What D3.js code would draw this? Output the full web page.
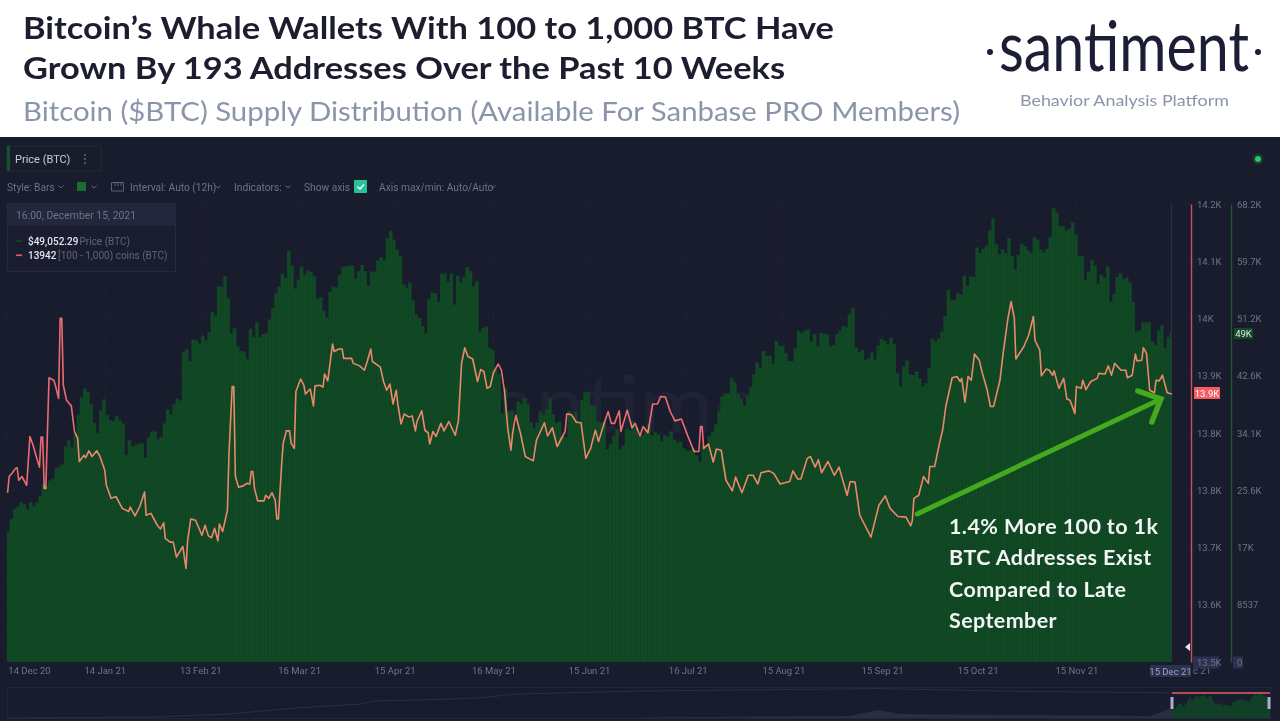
<!DOCTYPE html>
<html><head><meta charset="utf-8">
<script src="https://cdn.jsdelivr.net/npm/d3@7"></script>
<style>html,body{margin:0;padding:0;background:#fff;overflow:hidden}svg{display:block}</style>
</head><body><svg id="c" width="1280" height="721"></svg>
<script>
// BTC price in thousand USD, one value per day from 14 Dec 2020 to 15 Dec 2021
const priceDec20=[19.2,19.4,21.3,22.8,23.1,23.8,23.5,22.7,23.8,23.2,23.7,24.7,26.4,26.2,27.0,27.3,28.8,29.0];
const priceJan=[29.4,32.1,33.0,32.0,34.0,36.8,39.4,40.7,40.2,38.3,35.6,34.0,37.4,39.1,36.8,36.0,35.8,36.6,36.0,35.5,30.8,33.0,32.1,32.3,32.5,32.5,30.4,33.5,34.3,34.3,33.1];
const priceFeb=[33.5,35.5,37.6,36.9,38.3,39.2,38.9,46.2,46.5,44.8,48.0,47.9,47.4,48.6,47.9,49.1,52.1,51.6,55.9,55.8,57.4,54.1,48.9,49.7,47.0,46.3,46.2,45.1];
const priceMar=[49.6,48.4,50.5,48.4,48.8,48.9,51.0,52.7,54.9,55.9,57.8,57.2,61.2,59.0,55.6,56.9,58.9,57.6,58.3,58.1,57.4,54.1,54.3,52.3,51.3,55.1,55.9,55.8,57.6,58.8,58.9];
const priceApr=[59.0,59.0,57.1,58.2,59.1,58.2,56.0,58.1,58.1,59.8,60.2,59.8,63.1,64.2,62.9,61.4,60.4,56.2,55.7,56.5,53.8,51.7,51.2,50.0,49.0,54.0,55.0,54.9,53.6,57.8];
const priceMay=[57.8,56.6,57.8,53.2,57.5,56.5,57.3,58.8,58.2,55.9,56.7,49.2,49.7,49.9,46.8,46.4,43.5,42.9,37.0,40.8,37.3,37.5,34.8,38.8,38.4,39.3,38.4,35.7,34.8,35.7,37.3];
const priceJun=[36.7,37.6,39.2,36.9,35.6,35.8,33.6,33.5,37.4,36.7,37.3,35.6,39.0,40.2,40.2,38.3,38.1,35.8,35.6,35.7,31.7,32.5,33.7,34.7,31.6,32.2,34.7,34.5,35.9,35.0];
const priceJul=[33.6,33.8,34.7,35.3,33.7,34.2,33.9,32.9,33.8,33.5,34.3,33.1,32.7,32.8,31.8,31.4,31.5,31.8,30.8,29.8,32.1,32.3,33.6,34.3,35.4,37.3,39.5,40.0,40.0,42.2,41.6];
const priceAug=[39.9,39.2,38.2,39.7,40.9,42.8,44.6,43.8,46.3,45.6,45.6,44.4,47.8,47.1,47.0,46.0,44.8,44.8,46.7,49.3,48.9,49.3,49.5,47.7,48.8,47.0,49.0,48.9,48.8,47.0,47.2];
const priceSep=[48.8,49.3,50.0,49.9,51.8,52.7,46.8,46.1,46.4,44.9,45.2,46.1,45.0,47.1,48.1,47.8,47.3,48.3,47.3,43.0,41.0,44.0,44.9,42.8,42.7,43.2,42.2,41.0,41.5,43.8];
const priceOct=[48.1,47.7,48.2,49.2,51.5,55.4,53.8,53.9,54.9,54.7,57.5,56.0,57.4,57.3,61.7,60.9,61.5,62.0,64.3,66.0,62.2,60.7,61.4,60.9,63.1,60.4,58.5,60.6,62.3,61.9,61.3];
const priceNov=[60.9,63.2,62.9,61.4,61.0,61.5,63.3,67.6,66.9,64.9,64.9,64.2,64.5,65.5,63.6,60.4,60.4,56.9,58.1,59.8,59.0,56.3,57.6,57.2,58.9,53.6,54.8,57.3,57.8,57.0];
const priceDec21=[57.2,56.5,53.6,49.2,49.4,50.6,50.5,50.6,47.7,47.2,49.4,50.1,46.7,48.4,49.1];
const price=[].concat(priceDec20,priceJan,priceFeb,priceMar,priceApr,priceMay,priceJun,priceJul,priceAug,priceSep,priceOct,priceNov,priceDec21);

// Addresses holding 100 - 1,000 BTC: half-day index from 14 Dec 2020, and count
const coinsHalfDay=[1,2,4,6,7,8,10,13,15,17,19,21,22,23,24,25,27,30,31,33,34,35,36,38,41,43,45,46,49,50,52,54,57,59,62,63,66,69,73,77,78,81,84,85,87,88,91,95,97,99,100,103,105,107,111,113,114,116,119,123,125,127,129,131,133,134,136,139,140,142,143,144,146,149,151,153,154,155,156,158,162,163,165,167,169,170,171,173,174,176,178,179,181,182,185,187,188,191,193,194,197,199,200,202,205,206,209,211,212,217,218,222,225,227,229,230,235,237,239,241,243,245,246,248,250,253,255,257,258,261,263,265,266,268,270,273,275,278,282,284,286,288,290,293,296,298,300,302,304,306,309,311,313,315,317,318,320,323,326,331,333,338,340,343,346,351,352,355,358,361,364,367,370,372,375,378,380,382,385,386,390,393,395,398,400,403,406,409,411,414,417,420,424,428,432,435,436,437,438,441,444,446,449,452,456,458,462,466,469,472,474,479,482,486,492,494,497,499,503,505,508,510,512,516,520,523,528,530,533,536,543,548,552,555,560,565,568,569,570,573,576,579,580,583,586,588,590,594,597,599,600,602,604,606,608,611,613,616,618,620,624,626,629,631,633,634,639,642,645,646,649,650,653,655,657,658,661,664,666,668,671,672,675,676,678,681,685,686,690,692,694,696,700,703,704,707,709,710,713,714,716,718,721,722,724,726,729,732];
const coinsCount=[13784,13810,13816,13823,13824,13804,13810,13796,13874,13860,13842,13825,13873,13873,13791,13791,13968,13964,13956,13935,14063,14063,13956,13932,13923,13882,13871,13834,13844,13840,13851,13842,13851,13842,13820,13796,13775,13778,13759,13754,13761,13747,13762,13770,13785,13748,13751,13732,13726,13736,13711,13705,13705,13681,13698,13663,13707,13742,13740,13716,13732,13715,13712,13727,13707,13734,13722,13756,13847,13954,13954,13810,13793,13795,13799,13798,13818,13818,13791,13771,13771,13780,13775,13784,13772,13742,13742,13828,13863,13883,13883,13863,13855,13946,13966,13956,13942,13950,13923,13955,13956,13953,13974,13963,14022,14010,14014,14014,13999,13999,13991,13987,13980,13996,14014,13994,13985,13962,13948,13958,13926,13948,13926,13894,13910,13905,13907,13883,13898,13915,13884,13880,13862,13882,13874,13895,13883,13898,13876,13899,13991,14016,14002,13998,13962,13981,13978,13951,13954,13976,13990,13980,13946,13887,13852,13878,13908,13879,13842,13835,13868,13896,13875,13888,13858,13882,13910,13909,13897,13896,13839,13855,13884,13866,13891,13914,13895,13895,13915,13882,13916,13888,13895,13875,13890,13880,13926,13926,13938,13937,13914,13899,13902,13875,13850,13850,13890,13890,13855,13862,13833,13854,13852,13804,13787,13809,13784,13812,13812,13798,13816,13819,13815,13798,13802,13819,13806,13806,13839,13842,13825,13837,13816,13834,13812,13825,13780,13802,13801,13748,13713,13764,13779,13759,13746,13745,13731,13740,13775,13780,13810,13799,13826,13826,13863,13884,13922,13968,13970,13962,13967,13929,13970,13964,14006,13996,13975,13948,13922,13922,13964,14007,14063,14090,14063,13998,14018,14036,14066,14028,14012,13971,13982,13980,13972,13979,13951,13967,13934,13932,13911,13954,13951,13964,13949,13962,13967,13975,13974,13987,13972,13991,13980,13980,13968,13972,14006,13995,13996,14016,14007,13948,13944,13964,13963,13972,13944,13942];

const dateTicks=["2020-12-14","2021-01-14","2021-02-13","2021-03-16","2021-04-15","2021-05-16","2021-06-15","2021-07-16","2021-08-15","2021-09-15","2021-10-15","2021-11-15"];
const coinsTickLabels=["13.5K","13.6K","13.7K","13.8K","13.8K","13.9K","14K","14.1K","14.2K"];
const priceTicks=[0,8537,17000,25600,34100,42600,51200,59700,68200];
const priceTickLabels=["0","8537","17K","25.6K","34.1K","42.6K","51.2K","59.7K","68.2K"];
const noteLines=["1.4% More 100 to 1k","BTC Addresses Exist","Compared to Late","September"];
// Overview strip: share of the strip height over the share of the full history
const navTopT=[0,12.3,19.1,24.7,30.3,31.6,35.5,40.6,43.6,54.3,74.9,85.2,99.8];
const navTopV=[0,3,13,32,45,55,58,65,77,87,95,87,81];
const navLowT=[54.3,72.4,74.7,76.7,85.2,98.1,100];
const navLowV=[2,6.5,26,13,10,6.5,32];

const BG="#191c2d",GREEN="#114925",GRID="#22263a",MUTED="#6d7287",AX="#6f7488";
const svg=d3.select("#c");
const UI="Roboto,sans-serif", HEAD="Lato,'Open Sans',sans-serif";
svg.append("rect").attr("width",1280).attr("height",721).attr("fill","#fff");
svg.append("rect").attr("y",137).attr("width",1280).attr("height",584).attr("fill",BG);

// Header
function fit(t,x,y,len,size,weight,fill,fam){
  return svg.append("text").attr("x",x).attr("y",y).attr("font-family",fam||HEAD).attr("font-size",size)
   .attr("font-weight",weight).attr("fill",fill).attr("textLength",len).attr("lengthAdjust","spacingAndGlyphs").text(t);
}
fit("Bitcoin’s Whale Wallets With 100 to 1,000 BTC Have",23,39,811,31,700,"#1c1e2f");
fit("Grown By 193 Addresses Over the Past 10 Weeks",23,79,762,31,700,"#1c1e2f");
fit("Bitcoin ($BTC) Supply Distribution (Available For Sanbase PRO Members)",23,121,937,27.5,400,"#8b95aa");
fit("santiment",999,71,250,70,400,"#1c1e36");
svg.selectAll("circle.logo").data([990,1258]).join("circle").attr("cx",d=>d).attr("cy",52).attr("r",3).attr("fill","#1c1e36");
fit("Behavior Analysis Platform",1020,106,209,16,400,"#8b95aa");

// Scales
const x0=6,x1=1172,plotTop=204,plotBot=662;
const xTime=d3.scaleUtc().domain([new Date("2020-12-14"),new Date("2021-12-15")]).range([x0,x1]);
const xBand=d3.scaleBand().domain(d3.range(price.length)).range([3.5,1173]);
const xHalf=d3.scaleLinear().domain([0,732]).range([x0,x1]);
const yPrice=d3.scaleLinear().domain([0,68200]).range([plotBot,plotTop]);
const yCoins=d3.scaleLinear().domain([13513.2,14246]).range([plotBot,plotTop]);
const coinTicks=d3.range(9).map(i=>13513.2+i*(14246-13513.2)/8);

// Grid & watermark
const grid=svg.append("g");
coinTicks.slice(1).forEach(v=>grid.append("line").attr("x1",x0).attr("x2",1230).attr("y1",yCoins(v)).attr("y2",yCoins(v)).attr("stroke",GRID).attr("stroke-dasharray","3 3").attr("stroke-width",.7));
dateTicks.forEach(d=>grid.append("line").attr("x1",xTime(new Date(d))).attr("x2",xTime(new Date(d))).attr("y1",plotTop).attr("y2",plotBot).attr("stroke",GRID).attr("stroke-dasharray","3 3").attr("stroke-width",.7));
svg.append("text").attr("x",452).attr("y",432).attr("font-family",HEAD).attr("font-size",80).attr("font-weight",400).attr("fill","#1f2335").attr("textLength",390).attr("lengthAdjust","spacingAndGlyphs").text("santiment");

// Bars
svg.append("clipPath").attr("id","plot").append("rect").attr("x",7).attr("y",plotTop-5).attr("width",1165).attr("height",plotBot-plotTop+5);
svg.append("g").attr("clip-path","url(#plot)").selectAll("rect").data(price).join("rect")
 .attr("x",(d,i)=>xBand(i)).attr("width",xBand.step()+.15)
 .attr("y",d=>yPrice(d*1000)).attr("height",d=>plotBot-yPrice(d*1000))
 .attr("fill",GREEN).attr("stroke","#104523").attr("stroke-width",.3);
svg.append("line").attr("x1",1171.5).attr("x2",1171.5).attr("y1",plotTop).attr("y2",plotBot).attr("stroke","#2c3044").attr("stroke-width",1);

// Line
const lineGen=d3.line().x(d=>xHalf(d[0])).y(d=>yCoins(d[1]));
svg.append("path").datum(d3.zip(coinsHalfDay,coinsCount)).attr("d",lineGen).attr("fill","none")
 .attr("stroke","#e85a52").attr("stroke-width",1.6).attr("stroke-linejoin","round").style("mix-blend-mode","screen");

// Arrow annotation
const tip=[xHalf(725),yCoins(13934)],tail=[xHalf(572),yCoins(13750)];
svg.append("path").attr("d",d3.line()([tail,tip])).attr("stroke","#45a81f").attr("stroke-width",5).attr("stroke-linecap","round").attr("fill","none");
svg.append("path").attr("d",d3.line()([[tip[0]-23,tip[1]-8],tip,[tip[0]-9,tip[1]+23]])).attr("stroke","#45a81f").attr("stroke-width",5.5).attr("stroke-linecap","round").attr("stroke-linejoin","miter").attr("fill","none");
svg.selectAll("text.note").data(noteLines).join("text").attr("class","note").attr("x",949).attr("y",(d,i)=>534+i*31.4)
 .attr("font-family",HEAD).attr("font-size",21.5).attr("font-weight",700).attr("fill","#f2f5f2").attr("letter-spacing",.4).text(d=>d);

// X axis
const xAxis=svg.append("g").attr("transform","translate(0,662)").call(d3.axisBottom(xTime).tickValues(dateTicks.map(d=>new Date(d))).tickSize(0).tickPadding(4).tickFormat(d3.utcFormat("%d %b %y")));
xAxis.select(".domain").remove();
xAxis.selectAll("text").attr("font-family",UI).attr("font-size",9.5).attr("fill",AX).attr("dy",".85em");
xAxis.selectAll(".tick").filter((d,i)=>i===0).select("text").attr("x",23);
// last label: only its tail shows beside the highlighted one
svg.append("text").attr("x",1193).attr("y",674).attr("font-family",UI).attr("font-size",9.5).attr("fill",AX).text("c 21");
svg.append("rect").attr("x",1150).attr("y",665).attr("width",41).attr("height",12).attr("fill","#2c3150");
svg.append("text").attr("x",1170.5).attr("y",674.5).attr("text-anchor","middle").attr("font-family",UI).attr("font-size",9.5).attr("fill","#9ca2b8").text("15 Dec 21");

// Right axes
function rightAxis(scale,vals,labels,xp,color){
  const g=svg.append("g").attr("transform",`translate(${xp},0)`).call(d3.axisRight(scale).tickValues(vals).tickSize(0).tickPadding(6).tickFormat((d,i)=>labels[i]));
  g.select(".domain").style("stroke",color).style("stroke-width",1.4);
  g.selectAll("text").attr("font-family",UI).attr("font-size",9.5).attr("fill",AX);
}
svg.append("rect").attr("x",1193).attr("y",656.5).attr("width",26).attr("height",12).attr("fill","#2c3150");
svg.append("rect").attr("x",1233).attr("y",656.5).attr("width",10).attr("height",12).attr("fill","#2c3150");
rightAxis(yCoins,coinTicks,coinsTickLabels,1191,"#c9525f");
rightAxis(yPrice,priceTicks,priceTickLabels,1231,"#1a5a33");
svg.append("rect").attr("x",1194).attr("y",387).attr("width",26).attr("height",12).attr("fill","#f25c62");
svg.append("text").attr("x",1207).attr("y",396.5).attr("text-anchor","middle").attr("font-family",UI).attr("font-size",9.5).attr("fill","#fff").text("13.9K");
svg.append("rect").attr("x",1234).attr("y",328).attr("width",19).attr("height",11).attr("fill","#124a28");
svg.append("text").attr("x",1243.5).attr("y",337).attr("text-anchor","middle").attr("font-family",UI).attr("font-size",9.5).attr("fill","#d8e8dc").text("49K");
svg.append("path").attr("d","M1185 647L1190 643V651Z").attr("fill","#e8e8f0");
svg.append("circle").attr("cx",1258).attr("cy",159).attr("r",5.5).attr("fill","#1d3a2c");
svg.append("circle").attr("cx",1258).attr("cy",159).attr("r",3).attr("fill","#2fc36b");

// Controls
svg.append("rect").attr("x",7).attr("y",146).attr("width",94).attr("height",25).attr("fill","none").attr("stroke","#1e2c30");
svg.append("rect").attr("x",7).attr("y",146).attr("width",3).attr("height",25).attr("fill","#14532c");
function ui(t,x,y,size,fill,w){return svg.append("text").attr("x",x).attr("y",y).attr("font-family",UI).attr("font-size",size).attr("fill",fill).attr("font-weight",w||400).text(t);}
ui("Price (BTC)",15,162.5,11,"#c9ccd6");
[155,159,163].forEach(y=>svg.append("circle").attr("cx",85).attr("cy",y).attr("r",.9).attr("fill","#6d7287"));
ui("Style: Bars",7,190.5,10.2,MUTED);
ui("Interval: Auto (12h)",130,190.5,10.2,MUTED);
ui("Indicators:",234,190.5,10.2,MUTED);
ui("Show axis",304,190.5,10.2,MUTED);
ui("Axis max/min: Auto/Auto",379,190.5,10.2,MUTED);
[61,94,218,288,493].forEach(x=>svg.append("path").attr("d",`M${x-2.5} 185.5L${x} 188L${x+2.5} 185.5`).attr("fill","none").attr("stroke",MUTED).attr("stroke-width",.9));
svg.append("rect").attr("x",77).attr("y",182).attr("width",9).attr("height",9).attr("fill","#1c6b30");
svg.append("path").attr("d","M111.5 182.5H123.5V191H111.5ZM115 182.5V186M118 182.5V186M121 182.5V186").attr("fill","none").attr("stroke",MUTED).attr("stroke-width",.8);
svg.append("rect").attr("x",354).attr("y",180).attr("width",13).attr("height",13).attr("rx",1).attr("fill","#26c39a");
svg.append("path").attr("d","M357.5 186.5L360 189L364 184.5").attr("fill","none").attr("stroke","#fff").attr("stroke-width",1.3);

// Tooltip panel
svg.append("rect").attr("x",7.5).attr("y",203.5).attr("width",168).attr("height",68).attr("fill","#1a1d2f").attr("stroke","#262a3e");
svg.append("rect").attr("x",8).attr("y",204).attr("width",167).attr("height",22).attr("fill","#24273b");
ui("16:00, December 15, 2021",16,218.5,10.4,"#6d7287");
svg.append("rect").attr("x",16).attr("y",240.5).attr("width",6).attr("height",1.2).attr("fill","#14532c");
svg.append("rect").attr("x",16).attr("y",254.5).attr("width",6).attr("height",1.6).attr("fill","#e85c66");
ui("$49,052.29",28,244.5,10,"#e4e6ec",500);
ui("Price (BTC)",79.5,244.5,10,"#5f6479");
ui("13942",28,258.5,10,"#e4e6ec",500);
ui("[100 - 1,000) coins (BTC)",58,258.5,10,"#5f6479");

// Overview strip
svg.append("rect").attr("x",7.5).attr("y",687.5).attr("width",1263).attr("height",31).attr("fill","none").attr("stroke","#22263a");
const navX=d3.scaleLinear().domain([0,100]).range([7,1172]);
const navY=d3.scaleLinear().domain([0,100]).range([718,687]);
const navLine=d3.line().x(d=>navX(d[0])).y(d=>navY(d[1]));
svg.append("path").datum(d3.zip(navTopT,navTopV)).attr("d",navLine).attr("fill","none").attr("stroke","#2c3044").attr("stroke-width",1);
svg.append("path").datum(d3.zip(navLowT,navLowV)).attr("d",d3.area().x(d=>navX(d[0])).y0(718).y1(d=>navY(d[1]))).attr("fill","#2a2e44");
const windowX=d3.scaleBand().domain(d3.range(price.length)).range([1172,1270]);
const windowY=d3.scaleLinear().domain([0,68200]).range([718,692]);
svg.append("g").selectAll("rect").data(price).join("rect").attr("x",(d,i)=>windowX(i)).attr("width",windowX.step()+.1)
 .attr("y",d=>windowY(d*1000)).attr("height",d=>718-windowY(d*1000)).attr("fill","#124a28");
svg.append("line").attr("x1",1172).attr("x2",1270).attr("y1",693).attr("y2",693).attr("stroke","#e0626a").attr("stroke-width",1.3);
[1172,1269].forEach(x=>svg.append("rect").attr("x",x-1.5).attr("y",697).attr("width",3).attr("height",12).attr("fill","#a8b0c8"));
</script></body></html>
